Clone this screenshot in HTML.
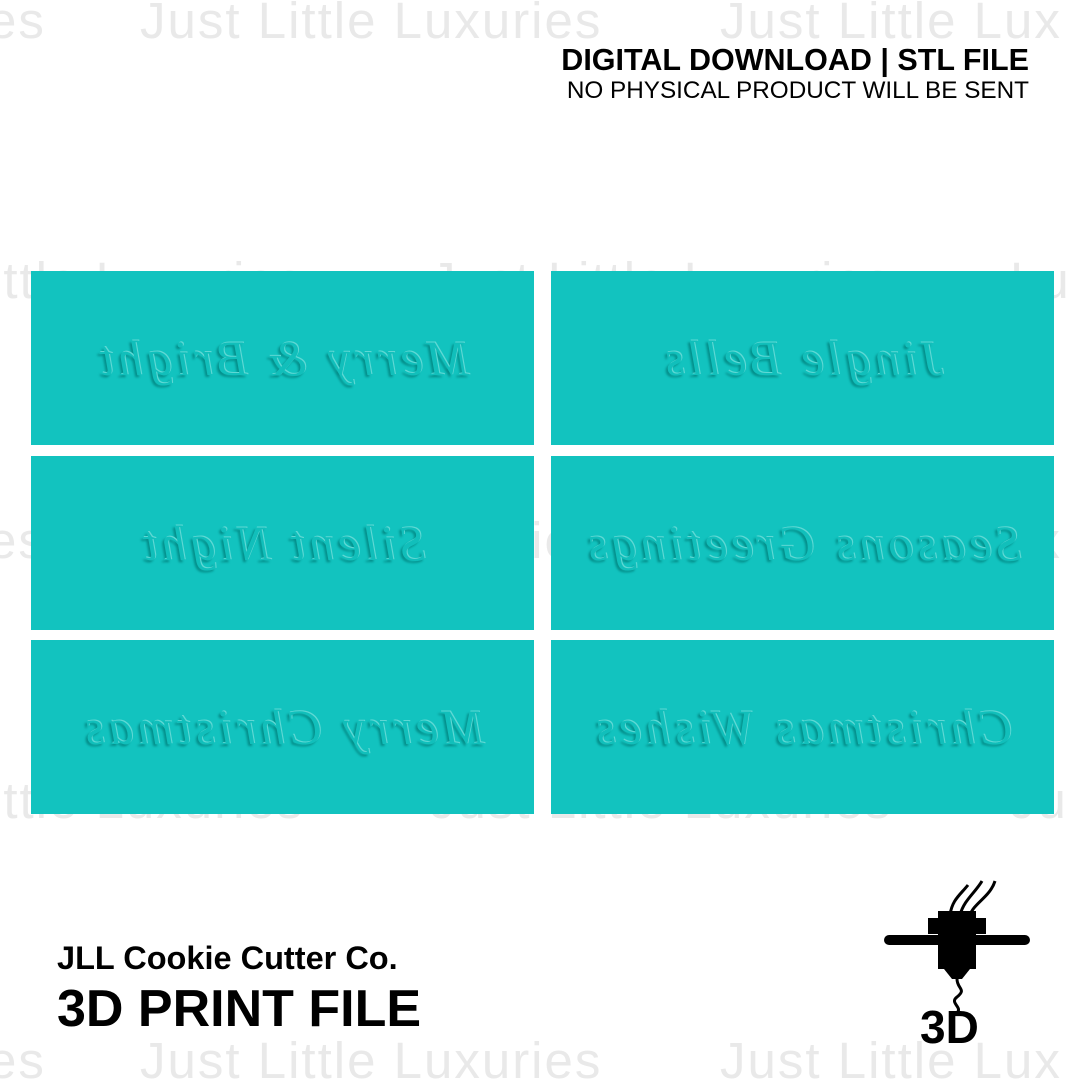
<!DOCTYPE html>
<html><head><meta charset="utf-8"><style>
html,body{margin:0;width:1086px;height:1086px;overflow:hidden}
body{background:#fff;position:relative;font-family:"Liberation Sans",sans-serif}
.wm{position:absolute;color:#e9e9e9;font-size:51px;white-space:nowrap;letter-spacing:2px;line-height:50px}
.p{position:absolute;width:503px;height:174px;background:#12c3bf;overflow:hidden}
.p span{position:absolute;left:0;right:0;top:0;bottom:0;display:flex;align-items:center;justify-content:center;transform:scaleX(-1);font-family:"Liberation Serif",serif;font-style:italic;font-size:50px;color:#11bfbb;text-shadow:-1px -1px 0 #5fd8d4,2px 2px 2px #048f8b;letter-spacing:4px;white-space:nowrap}
</style></head><body>
<div style="position:absolute;left:0;top:0;width:1086px;height:1086px;overflow:hidden">
<div class="wm" style="left:-12px;top:-4px">es</div>
<div class="wm" style="left:140px;top:-4px">Just Little Luxuries</div>
<div class="wm" style="left:720px;top:-4px">Just Little Lux</div>
<div class="wm" style="left:-10px;top:256px">ittle Luxuries</div>
<div class="wm" style="left:430px;top:256px">Just Little Luxuries</div>
<div class="wm" style="left:1010px;top:256px">Lu</div>
<div class="wm" style="left:-12px;top:516px">es</div>
<div class="wm" style="left:140px;top:516px">Just Little Luxuries</div>
<div class="wm" style="left:720px;top:516px">Just Little Lux</div>
<div class="wm" style="left:-10px;top:776px">ittle Luxuries</div>
<div class="wm" style="left:430px;top:776px">Just Little Luxuries</div>
<div class="wm" style="left:1010px;top:776px">Ju</div>
<div class="wm" style="left:-12px;top:1036px">es</div>
<div class="wm" style="left:140px;top:1036px">Just Little Luxuries</div>
<div class="wm" style="left:720px;top:1036px">Just Little Lux</div>
</div>

<div style="position:absolute;right:57px;top:42px;text-align:right;color:#000;white-space:nowrap">
<div style="font-weight:bold;font-size:30.5px;line-height:36px">DIGITAL DOWNLOAD | STL FILE</div>
<div style="font-size:24.3px;line-height:26px">NO PHYSICAL PRODUCT WILL BE SENT</div>
</div>

<div class="p" style="left:31px;top:271px"><span>Merry &amp; Bright</span></div>
<div class="p" style="left:551px;top:271px"><span>Jingle Bells</span></div>
<div class="p" style="left:31px;top:456px"><span>Silent Night</span></div>
<div class="p" style="left:551px;top:456px"><span>Seasons Greetings</span></div>
<div class="p" style="left:31px;top:640px"><span>Merry Christmas</span></div>
<div class="p" style="left:551px;top:640px"><span>Christmas Wishes</span></div>

<div style="position:absolute;left:57px;top:940px;font-weight:bold;font-size:32.5px;white-space:nowrap">JLL Cookie Cutter Co.</div>
<div style="position:absolute;left:57px;top:980px;font-weight:bold;font-size:52px;line-height:58px;white-space:nowrap">3D PRINT FILE</div>

<svg style="position:absolute;left:880px;top:875px" width="160" height="175" viewBox="0 0 160 175">
<path d="M70 40 C72 25 80 20 88 10 M80 40 C84 25 95 18 102 6 M90 40 C94 28 110 22 115 6" stroke="#000" stroke-width="3" fill="none"/>
<rect x="4" y="60" width="146" height="10" rx="5" fill="#000"/>
<rect x="48" y="43" width="10" height="16" fill="#000"/>
<rect x="96" y="43" width="10" height="16" fill="#000"/>
<rect x="58" y="36" width="38" height="58" fill="#000"/>
<path d="M64 94 h26 l-8 10 h-10 z" fill="#000"/>
<path d="M77 104 c0 10 10 10 0 18 c-8 6 6 10 0 16" stroke="#000" stroke-width="3" fill="none"/>
<text x="40" y="168" font-family="Liberation Sans" font-weight="bold" font-size="46" fill="#000">3D</text>
</svg>
</body></html>
